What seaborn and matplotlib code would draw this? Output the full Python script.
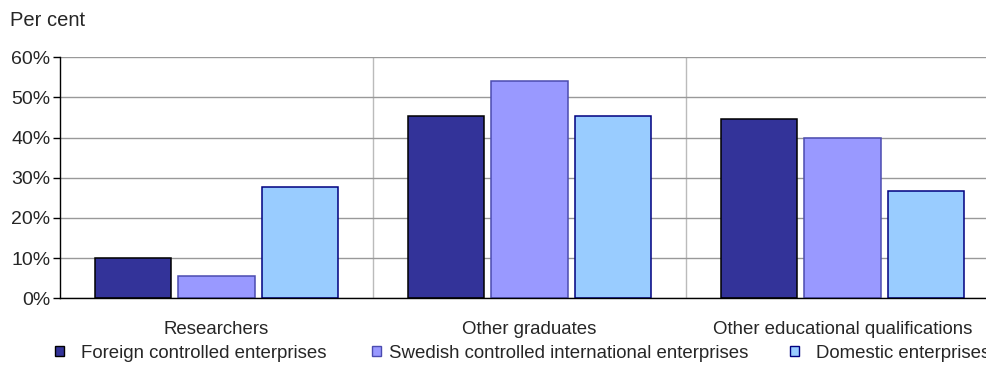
import numpy as np
import pandas as pd
import seaborn as sns
import matplotlib
matplotlib.use("Agg")
import matplotlib.pyplot as plt
from matplotlib.patches import Patch
from matplotlib.ticker import PercentFormatter, FixedLocator

# data
categories = ["Researchers", "Other graduates", "Other educational qualifications"]
series = ["Foreign controlled enterprises",
          "Swedish controlled international enterprises",
          "Domestic enterprises"]
foreign = [10.1, 45.3, 44.7]
swedish = [5.6, 54.2, 39.8]
domestic = [27.8, 45.3, 26.8]

colors = ["#333399", "#9999FF", "#99CCFF"]
edges = ["#000000", "#4B4BB0", "#000080"]

rows = []
for s, vals in zip(series, [foreign, swedish, domestic]):
    for c, v in zip(categories, vals):
        rows.append({"category": c, "series": s, "value": v})
df = pd.DataFrame(rows)

sns.set_style("white")
plt.rcParams['font.family'] = ['Liberation Sans', 'DejaVu Sans']
fs = 13.4

W, H = 987, 391
fig = plt.figure(figsize=(W / 100, H / 100), dpi=100)
ax = fig.add_axes([60 / W, (H - 298.3) / H, (999 - 60) / W, (298.3 - 57.3) / H])

sns.barplot(df, x="category", y="value", hue="series", palette=colors,
            width=0.8, gap=0.08, ax=ax, legend=False, saturation=1)

for i, cont in enumerate(ax.containers):
    for bar in cont:
        bar.set_edgecolor(edges[i])
        bar.set_linewidth(1.1)

ax.set_xlim(-0.5, 2.5)
ax.set_ylim(0, 60)
ax.set_yticks(np.arange(0, 61, 10))
ax.yaxis.set_major_formatter(PercentFormatter(decimals=0))
ax.yaxis.grid(True, color="#999999", linewidth=1)
ax.set_axisbelow(True)

# category boundaries as minor ticks + vertical grid
ax.xaxis.set_minor_locator(FixedLocator([0.5, 1.5]))
ax.xaxis.grid(True, which="minor", color="#BBBBBB", linewidth=1)
ax.tick_params(axis="x", which="major", length=0, labelsize=fs, pad=16)
ax.tick_params(axis="x", which="minor", length=5, width=1, color="#000000", direction="out")
ax.tick_params(axis="y", length=5, width=1, color="#000000", direction="out", labelsize=14, pad=2, left=True)
ax.set_xlabel("")
ax.set_ylabel("")

for s in ["top", "right"]:
    ax.spines[s].set_visible(False)
ax.spines["left"].set_color("#000000")
ax.spines["bottom"].set_color("#000000")
ax.spines["left"].set_linewidth(1)
ax.spines["bottom"].set_linewidth(1)

fig.text(10 / W, 1 - 20 / H, "Per cent", fontsize=14.5, va="center", ha="left")

# legend entries placed individually
leg_x = [55 / W, 372 / W, 790 / W]
pads = [0.9, 0.43, 0.9]
for i, s in enumerate(series):
    h = Patch(facecolor=colors[i], edgecolor=edges[i], linewidth=1)
    fig.legend(handles=[h], labels=[s], loc="center left",
               bbox_to_anchor=(leg_x[i], 1 - 353 / H), frameon=False,
               fontsize=fs, handlelength=0.5, handleheight=0.5,
               handletextpad=pads[i], borderaxespad=0, borderpad=0)

fig.savefig("out.png", dpi=100)
